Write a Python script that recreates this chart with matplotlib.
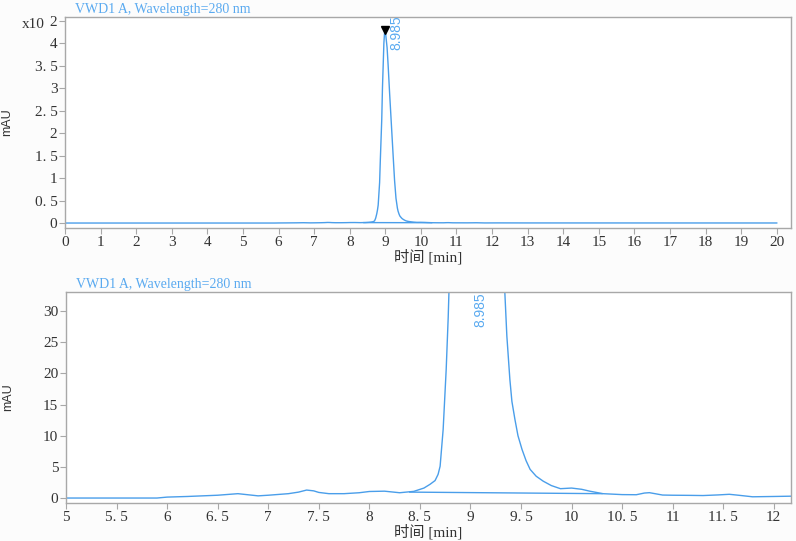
import matplotlib
matplotlib.use('Agg')
import matplotlib.pyplot as plt
from matplotlib.ticker import FuncFormatter, MultipleLocator

plt.rcParams['font.family'] = ['Liberation Serif', 'Noto Sans CJK SC']

# 色谱数据 (min, mAU)
t = [0.0, 5.0, 5.5, 5.9, 6.0, 6.2, 6.5, 6.7, 6.9, 7.0, 7.2, 7.3, 7.38, 7.45,
     7.5, 7.6, 7.75, 7.9, 8.0, 8.15, 8.3, 8.44, 8.54, 8.60, 8.65, 8.68, 8.70, 8.73,
     8.76, 8.78, 8.80, 8.84, 8.86, 8.90, 8.92, 8.94, 8.96, 8.985, 9.01, 9.05,
     9.08, 9.12, 9.17, 9.22, 9.26, 9.30, 9.34, 9.36, 9.39, 9.41, 9.44, 9.47, 9.51,
     9.55, 9.59, 9.65, 9.72, 9.80, 9.89, 10.0, 10.1, 10.18, 10.31, 10.5, 10.64,
     10.72, 10.77, 10.9, 11.0, 11.16, 11.3, 11.45, 11.56, 11.65, 11.79, 12.0,
     12.18, 13.0, 20.0]
sig = [0.0, 0.0, 0.0, 0.0, 0.15, 0.25, 0.45, 0.7, 0.35, 0.45, 0.7, 0.95, 1.28, 1.15,
       0.9, 0.7, 0.7, 0.85, 1.05, 1.1, 0.85, 1.07, 1.6, 2.2, 2.8, 3.8, 5.1, 11,
       20.6, 29, 40, 90, 140, 230, 300, 350, 400, 430, 420, 390,
       350, 290, 220, 150, 95, 55, 33, 26, 19, 15.5, 12.6, 10.0, 7.8,
       6.0, 4.6, 3.5, 2.7, 2.0, 1.5, 1.6, 1.4, 1.1, 0.7, 0.55, 0.53,
       0.8, 0.86, 0.48, 0.45, 0.43, 0.4, 0.5, 0.6, 0.45, 0.2, 0.25,
       0.3, 0.2, 0.1]
# 积分基线
bt = [8.40, 10.30]
bv = [0.95, 0.70]

peak_t = 8.985
peak_v = 428
peak_lbl = '8.985'
title = 'VWD1 A, Wavelength=280 nm'

blue = '#4a9eea'
txtblue = '#5aaaf0'
frame = '#a8a8a8'
tickc = '#333333'


def fmt(v, pos):
    s = ('%g' % round(v, 2))
    return s.replace('.', '. ')


def fmt_top(v, pos):
    if v > 4.2:
        return '2'
    return fmt(v, pos)


fig = plt.figure(figsize=(7.96, 5.41), dpi=100, facecolor='#fcfcfc')
ax1 = fig.add_axes([0.0817, 0.5786, 0.912, 0.390])
ax2 = fig.add_axes([0.0829, 0.0702, 0.9108, 0.390])

for ax in (ax1, ax2):
    for s in ax.spines.values():
        s.set_color(frame)
        s.set_linewidth(1.0)
    ax.tick_params(colors=frame, labelcolor=tickc, labelsize=11, length=4, width=0.8, pad=1.5)
    ax.yaxis.set_major_formatter(FuncFormatter(fmt))
    ax.xaxis.set_major_formatter(FuncFormatter(fmt))
    ax.set_xlabel('时间 [min]', fontsize=11, color=tickc, labelpad=0)
    ax.set_ylabel('mAU', fontsize=9, color=tickc, family='Liberation Sans')
    ax.yaxis.set_label_coords(-0.072, 0.5)

# 1 全谱
ax1.plot(t, [v / 100 for v in sig], color=blue, lw=1.0)
ax1.plot(bt, [v / 100 for v in bv], color=blue, lw=1.0)
ax1.plot([peak_t], [peak_v / 100], marker='v', color='black', ms=6)
ax1.set_xlim(0, 20.4)
ax1.set_ylim(-0.11, 4.58)
ax1.xaxis.set_major_locator(MultipleLocator(1))
ax1.yaxis.set_major_locator(MultipleLocator(0.5))
ax1.yaxis.set_major_formatter(FuncFormatter(fmt_top))
ax1.text(9.12, 3.84, peak_lbl, rotation=90, color=txtblue, fontsize=10,
         family='Liberation Sans', ha='left', va='bottom', clip_on=False)
ax1.text(-0.028, 4.42, 'x10', ha='right', va='center', fontsize=11, color=tickc,
         transform=ax1.get_yaxis_transform(), clip_on=False)
ax1.text(0.014, 1.005, title, transform=ax1.transAxes, color=txtblue, fontsize=10,
         ha='left', va='bottom')

# 2 局部放大
ax2.plot(t, sig, color=blue, lw=1.0)
ax2.plot(bt, bv, color=blue, lw=1.0)
ax2.set_xlim(5, 12.17)
ax2.set_ylim(-0.8, 33.05)
ax2.xaxis.set_major_locator(MultipleLocator(0.5))
ax2.yaxis.set_major_locator(MultipleLocator(5))
ax2.text(9.03, 27.4, peak_lbl, rotation=90, color=txtblue, fontsize=10,
         family='Liberation Sans', ha='left', va='bottom')
ax2.text(0.014, 1.005, title, transform=ax2.transAxes, color=txtblue, fontsize=10,
         ha='left', va='bottom')

fig.savefig('out.png', dpi=100, facecolor=fig.get_facecolor())
